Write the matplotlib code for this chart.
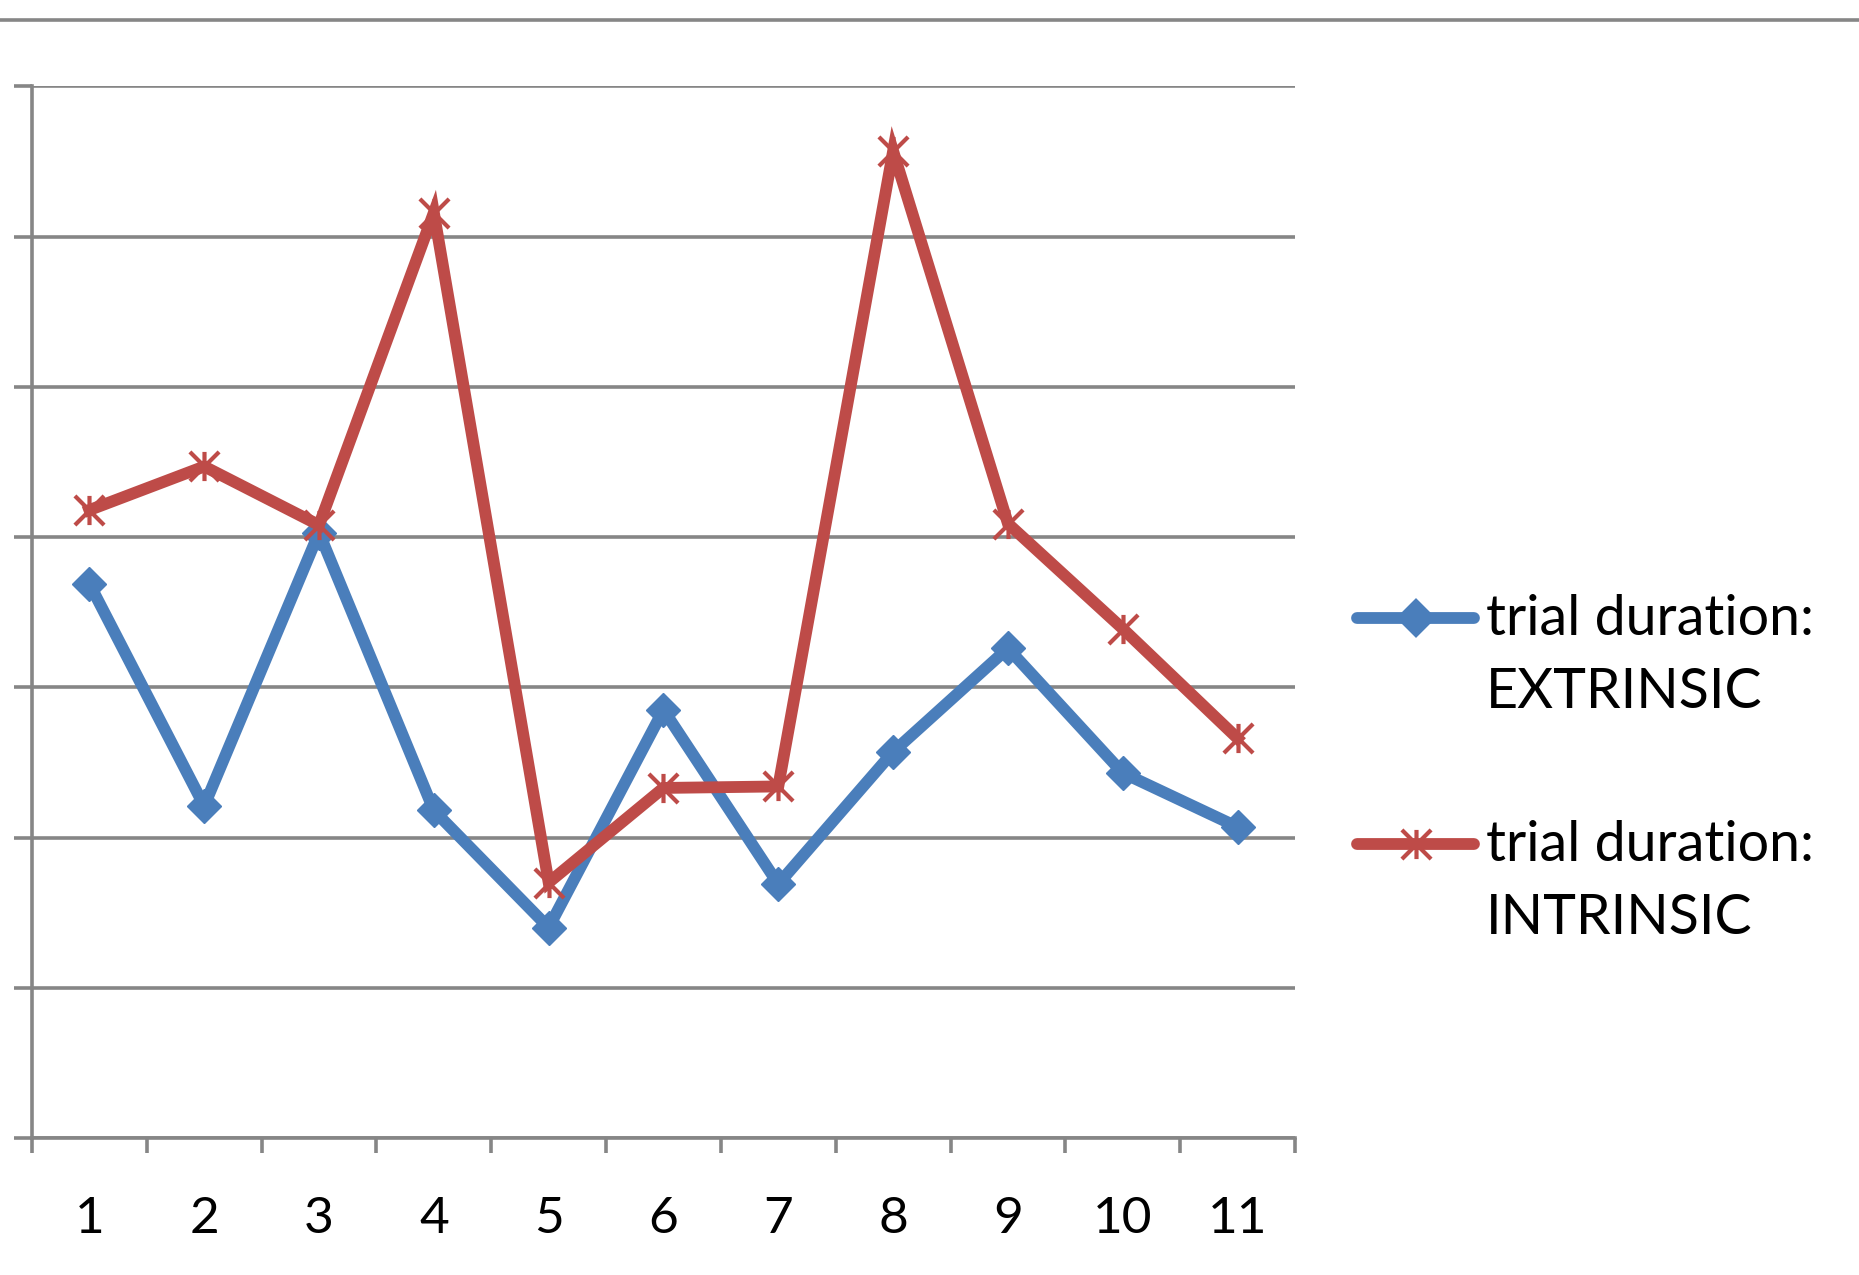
import matplotlib
matplotlib.use('Agg')
import matplotlib.pyplot as plt
from matplotlib.lines import Line2D
from matplotlib.path import Path

trials = [1, 2, 3, 4, 5, 6, 7, 8, 9, 10, 11]
extrinsic = [3.69, 2.21, 4.03, 2.18, 1.40, 2.85, 1.69, 2.57, 3.26, 2.43, 2.07]
intrinsic = [4.18, 4.47, 4.08, 6.16, 1.70, 2.33, 2.34, 6.57, 4.09, 3.39, 2.66]
labels = ["trial duration:\nEXTRINSIC", "trial duration:\nINTRINSIC"]

blue = '#4A7EBB'
red = '#BE4B48'
grid_gray = '#868686'

plt.rcParams['font.family'] = ['Lato', 'DejaVu Sans']

# star marker: vertical bar plus an X
star = Path([(0, -1), (0, 1), (-1, -1), (1, 1), (-1, 1), (1, -1)],
            [Path.MOVETO, Path.LINETO, Path.MOVETO, Path.LINETO, Path.MOVETO, Path.LINETO])

fig = plt.figure(figsize=(18.59, 12.75), dpi=100)
ax = fig.add_axes([0.0172, 0.1075, 0.6794, 0.8247])

ax.plot(trials, extrinsic, color=blue, linewidth=8.5, marker='D', markersize=17,
        markerfacecolor=blue, markeredgecolor=blue, solid_joinstyle='miter', zorder=3)
ax.plot(trials, intrinsic, color=red, linewidth=8.5, marker=star, markersize=21,
        markeredgewidth=3, markeredgecolor=red, solid_joinstyle='miter', zorder=4)

ax.set_xlim(0.5, 11.5)
ax.set_ylim(0, 7)
ax.set_yticks(range(8))
ax.set_yticklabels([])
ax.yaxis.grid(True, color=grid_gray, linewidth=2.6)
ax.set_axisbelow(True)

# category boundaries get tick marks, the labels sit between them
ax.set_xticks([x + 0.5 for x in range(12)])
ax.set_xticklabels([])
ax.set_xticks(trials, minor=True)
ax.set_xticklabels([str(t) for t in trials], minor=True, fontsize=37)
ax.tick_params(axis='x', which='major', length=11, width=2.6, color=grid_gray, direction='out')
ax.tick_params(axis='x', which='minor', length=0, pad=42)
ax.tick_params(axis='y', length=13, width=2.6, color=grid_gray, direction='out')

for side in ['top', 'right']:
    ax.spines[side].set_visible(False)
for side in ['left', 'bottom']:
    ax.spines[side].set_color(grid_gray)
    ax.spines[side].set_linewidth(2.6)

# rule across the top of the figure
fig.add_artist(Line2D([0, 1], [1 - 20 / 1275, 1 - 20 / 1275], transform=fig.transFigure,
                      color=grid_gray, linewidth=2.6))

# legend drawn by hand so the handle lines up with the first text line
W, H = 1859.0, 1275.0
entries = [(618, blue, 'D', 17), (844, red, star, 21)]
for (ypx, col, mk, ms), lab in zip(entries, labels):
    yf = 1 - ypx / H
    fig.add_artist(Line2D([1357 / W, 1474 / W], [yf, yf], transform=fig.transFigure,
                          color=col, linewidth=8.5, solid_capstyle='round'))
    fig.add_artist(Line2D([1416 / W], [yf], transform=fig.transFigure, color=col,
                          marker=mk, markersize=ms, markeredgewidth=3,
                          markerfacecolor=col, markeredgecolor=col))
    fig.text(1486 / W, yf + 0.019, lab, fontsize=40, va='top', ha='left',
             linespacing=1.55, transform=fig.transFigure)

fig.savefig('out.png', dpi=100, facecolor='white')
